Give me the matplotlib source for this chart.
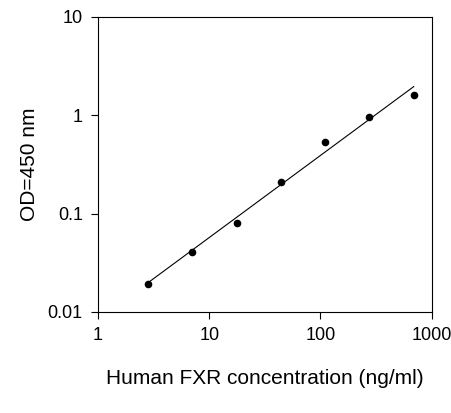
import numpy as np
import matplotlib
matplotlib.use("Agg")
import matplotlib.pyplot as plt
from matplotlib.ticker import FixedLocator, FixedFormatter, NullLocator

plt.rcParams['font.family'] = ['Liberation Sans', 'DejaVu Sans']

conc = [2.8, 7.0, 17.6, 44, 110, 276, 690]
od = [0.0194, 0.041, 0.081, 0.21, 0.537, 0.955, 1.62]
xticks = [1, 10, 100, 1000]
xlabels = ["1", "10", "100", "1000"]
yticks = [0.01, 0.1, 1, 10]
ylabels = ["0.01", "0.1", "1", "10"]

fig = plt.figure(figsize=(4.52, 4.13), dpi=100)
ax = fig.add_axes([0.217, 0.245, 0.738, 0.714])
ax.set_xscale("log"); ax.set_yscale("log")
ax.scatter(conc, od, s=20, color="black", zorder=3)
p = np.polyfit(np.log10(conc), np.log10(od), 1)
xl = np.array([conc[0], conc[-1]])
ax.plot(xl, 10**np.polyval(p, np.log10(xl)), color="black", lw=0.8)
ax.set_xlim(1, 1000); ax.set_ylim(0.01, 10)
ax.xaxis.set_major_locator(FixedLocator(xticks)); ax.xaxis.set_major_formatter(FixedFormatter(xlabels))
ax.yaxis.set_major_locator(FixedLocator(yticks)); ax.yaxis.set_major_formatter(FixedFormatter(ylabels))
ax.xaxis.set_minor_locator(NullLocator()); ax.yaxis.set_minor_locator(NullLocator())
ax.tick_params(labelsize=13, length=5, direction="out", pad=6)
ax.set_xlabel("Human FXR concentration (ng/ml)", fontsize=15, labelpad=18)
ax.set_ylabel("OD=450 nm", fontsize=15, labelpad=6)
fig.savefig("out.png", dpi=100)
